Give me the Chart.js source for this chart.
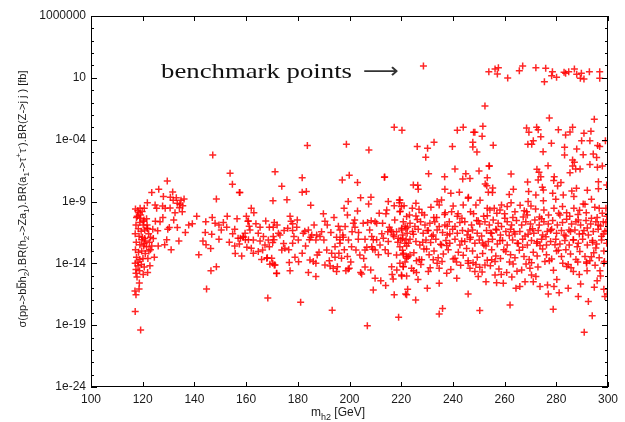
<!DOCTYPE html>
<html>
<head>
<meta charset="utf-8">
<script src="https://cdn.jsdelivr.net/npm/chart.js@4.4.1/dist/chart.umd.min.js"></script>
<style>
html,body{margin:0;padding:0;background:#fff;}
canvas{display:block;}
</style>
</head>
<body>
<canvas id="c" width="625" height="422"></canvas>
<script>
// Each point: [m_h2 in GeV, log10 of sigma*BR in fb]
const benchmarkPoints = [
[228.6,1.96],[253.9,1.5],[256.3,1.72],[257.6,1.82],[257.2,1.31],[261.2,0.99],[265.7,1.58],[267,1.96],
[272.1,1.82],[275.9,1.77],[275.4,0.69],[278.5,1.5],[278.2,1.17],[280.1,1.04],[283.6,1.37],[284.8,1.5],
[283,1.45],[287,1.72],[287.9,1.29],[289.7,1.37],[289.3,0.96],[290.7,0.91],[292.8,1.5],[296.8,1.5],[296.8,0.96]
];
const upperPoints = [
[252.4,-1.28],[277.3,-2.25],[294.7,-2.35],[217.3,-3.0],[220.3,-3.24],[241.7,-3.24],[244,-3.0],[248,-3.4],
[248.5,-3.4],[251.6,-2.92],[251.3,-3.73],[232.7,-4.2],[226.2,-4.56],[230.2,-4.7],[229.5,-5.42],[239.8,-4.56],
[247.7,-4.2],[247.7,-4.6],[249.3,-5.0],[255.6,-4.45],[254,-6.13],[268.5,-3.05],[269.4,-3.4],[272.4,-3.0],
[273,-3.2],[274,-3.76],[280.8,-3.19],[283.6,-3.62],[285.3,-3.38],[286.3,-3.0],[290.7,-3.48],[293.4,-3.32],
[269,-4.37],[270.5,-4.37],[271.1,-4.08],[278.1,-4.29],[274.9,-4.97],[283.2,-4.62],[283.2,-5.24],[287.9,-4.75],
[286.3,-5.64],[287,-5.83],[289.8,-4.08],[290.4,-5.21],[293,-4.08],[296,-4.48],[296.8,-4.56],[295.6,-5.45],
[294.3,-5.16],[299,-4.08],[276.8,-6.1],[272.5,-6.4],[273.3,-6.64],[274,-7.0],[273,-7.26],[279.2,-7.0],
[279,-7.3],[281.8,-7.47],[280.5,-7.74],[285.3,-6.67],[287.5,-6.37],[289.2,-6.37],[293,-6.0],[295.9,-6.23],
[297.8,-6.13],[296.3,-7.4],[296.3,-7.96],[299.5,-7.66],[213.6,-7.02],[226.4,-7.69],[230.6,-6.75],[240.8,-6.37],
[236.8,-7.0],[243.8,-7.18],[246.6,-7.15],[245,-6.75],[250.1,-6.53],[254.1,-6.13],[253.3,-7.07],[252.5,-7.58],
[253.1,-7.72],[255.4,-7.9],[262.5,-6.77],[263.4,-8.0],[261.8,-8.44],[236.9,-8.0],[239.2,-8.33],[242.5,-8.25],
[246,-8.66],[268.9,-7.42],[269.3,-8.2],[272.1,-8.47],[275,-8.07],
[274.6,-7.85],[286,-8.15],[287.8,-7.93],[286.3,-6.12],[253.7,-8.25],[255.3,-8.28],[224.7,-7.66],[226.6,-8.01],
[278.6,-8.33],[282.7,-8.47],[286.8,-8.6],[292,-8.1],
[183.7,-4.48],[198.8,-4.37],[207.5,-4.83],[171.2,-6.59],[181.7,-7.07],[173.8,-7.77],[199.9,-6.88],[197.2,-7.26],
[203.1,-7.47],[213.5,-7.04],[181.7,-8.25],[183.3,-8.2],[170.4,-8.93],[175.8,-8.85],[185,-9.3],[157.6,-8.28],
[147.1,-5.24],[153.8,-6.72],[154.7,-7.6],[157.4,-8.28],[148.5,-8.8],[129.5,-7.34],[123.5,-8.28],[126.2,-8.0],
[131.6,-8.23],[130.7,-8.66]
];
const leftClusterPoints = [
[121.8,-9.1],[119,-9.55],[118.1,-9.74],[120.6,-9.55],[124.8,-9.28],[125.4,-9.55],[127.7,-9.36],[128.7,-9.55],
[130.6,-9.52],[133.4,-9.14],[134.4,-9.22],[135.5,-9.34],[134.2,-9.5],[135.3,-9.82],[117.9,-10.2],[119,-10.35],
[120.5,-10.5],[121.5,-10.4],[120.2,-10.9],[124.9,-10.6],[126.7,-10.63],[125.8,-11.36],[123.9,-11.25],[121.7,-11.17],
[129.7,-11.25],[130.3,-11.1],[133.4,-11.1],[132,-10.5],[129.3,-12.1],[124.1,-12.0],[121.5,-12.65],[120.6,-12.4],
[119.6,-12.1],[117.4,-14.8],[120.2,-14.9],[121.9,-14.75],[118.7,-15.6],[118.6,-16.07],[117,-16.23],[117.4,-16.55],
[117.1,-17.9],[119.2,-19.4],[144.7,-16.07],[146.4,-14.6],[148.5,-14.27],[141.7,-13.3],[140.9,-10.2],[139.2,-10.8],
[144.4,-10.63],[146.9,-10.3],[148,-10.76],[149.5,-10.9],[144.2,-11.5],[143.3,-12.2],[144.5,-12.5],[146.3,-12.8],
[146.7,-11.65],[149.5,-12.05],[150.4,-11.3],[152.5,-11.08],[152.7,-10.2],[155.6,-11.25],[156.9,-11.97],[157.4,-12.43],
[155.6,-12.6],[155.8,-13.2],[158.9,-11.9],[159.7,-12.1],[160.3,-12.7],[160.7,-10.6],
[117.2,-9.6],[118.5,-9.9],[119.8,-9.8],[117.6,-10.3],[118.9,-10.7],[120.3,-10.6],[121.7,-10.9],[117.4,-10.9],
[118.3,-11.2],[119.4,-11.4],[120.8,-11.3],[122.3,-11.6],[117.1,-11.6],[118.6,-11.8],[119.9,-11.9],[121.1,-12.2],
[122.6,-12.3],[117.5,-12.3],[118.9,-12.5],[120.4,-12.6],[117.2,-12.9],[118.4,-13.1],[119.6,-13.0],[121,-13.2],
[122.4,-13.0],[117.6,-13.5],[118.9,-13.7],[120.1,-13.6],[117.1,-14.0],[118.2,-14.2],[119.5,-14.1],[117.4,-14.5],
[118.8,-14.6],[120.8,-12.0],[121.9,-11.2],[119.2,-10.1],[123,-11.9],[123.5,-12.6],[122,-13.6],[120.6,-14.3],
[117.8,-15.1],[118.2,-13.9],
[127.8,-10.3],[128.5,-12.5],[126,-12.6],[131,-12.9],[134,-12.2],[136.5,-11.5],[137.8,-10.9],[132.5,-9.9],
[131.8,-8.9],[133,-8.7],[134.8,-8.9],[136,-8.8],[128,-8.6],[123,-12.9],[124.5,-13.5],[122.8,-14.2]
];
const midMassPoints = [
[162,-9.55],[163,-9.9],[160.1,-10.2],[160.9,-10.57],[167.6,-10.57],[170.9,-10.7],[170.5,-11.08],[169,-11.08],
[165.4,-11.08],[177,-10.2],[177.4,-10.6],[178,-10.8],[179.6,-11.08],[182.7,-11.4],[189.9,-10.0],[190.5,-10.6],
[191.4,-10.9],[189.2,-11.44],[187.3,-11.7],[185,-11.9],[184.5,-12.1],[195.7,-11.0],[196.3,-11.3],[198.3,-11.03],
[197.4,-11.7],[195,-11.9],[196.3,-12.1],[202,-10.5],[202.1,-11.08],[201.5,-10.76],[201,-11.44],
[205.3,-10.76],[207,-10.7],[208.4,-10.56],[209.9,-10.64],[210.5,-10.76],[212.8,-10.76],[214.4,-9.68],[214.1,-10.0],
[211.5,-9.95],[207.4,-9.2],[208.3,-8.66],[204.3,-8.7],[199.5,-9.0],[197.9,-9.55],[199.2,-10.09],[203.1,-9.76],
[215,-9.0],[217.3,-9.34],[219.3,-8.88],[219.6,-9.79],[221.1,-9.34],[219.3,-9.1],
[214.8,-11.44],[215.9,-11.3],[216.9,-11.7],[218.2,-11.44],[220.2,-11.17],[221.5,-11.0],[222.4,-11.08],
[203.4,-12.05],[206,-12.05],[208.6,-11.84],[210.5,-12.1],[206.7,-12.7],[209,-12.86],[209.2,-12.1],
[215,-13.2],[220.8,-13.3],[222.1,-13.46],[219.5,-13.99],[216.3,-14.27],[220.8,-14.27],[218.3,-14.53],[220.2,-15.02],
[216.9,-15.26],[209.9,-15.2],[212.1,-15.4],[214,-15.8],[209.2,-16.15],[206,-14.3],[204.3,-14.75],[208.2,-14.53],
[177,-14.6],[171.8,-14.83],[170.3,-13.99],[168.2,-13.54],[171.2,-14.13],
[184.1,-14.75],[187,-15.07],[180.3,-13.88],[181.7,-13.18],[178.9,-13.5],[176.7,-13.94],[178,-12.37],
[184.7,-13.73],[186,-13.86],[187.5,-13.32],[187,-13.99],[190.5,-14.13],[192.5,-14.21],[193.7,-14.4],[195,-14.67],
[192.2,-13.8],[194.4,-13.5],[195.9,-13.18],[196.9,-13.58],[199.2,-13.45],[198.6,-14.6],[199.9,-14.4],[195.3,-14.27],
[157.8,-11.97],[158.9,-11.84],[160.9,-12.1],[162,-12.78],[162.8,-13.18],[164.7,-13.05],[166.4,-12.92],[165.4,-12.19],
[167.3,-12.51],[169,-12.65],[170.3,-12.32],[170.8,-12.1],[173.1,-11.7],[175,-12.78],[173.8,-12.92],[168,-13.59],
[169.9,-13.59],[169.2,-14.07],[170.9,-14.13],[171.8,-14.8],[199.5,-14.45],[216.5,-14.9],[204.7,-14.86],
[215.4,-11.08],[216.3,-11.43],[217.2,-11.84],[218.9,-11.97],[220.6,-11.7],[221.9,-12.1],[222.8,-12.38],[219.5,-12.65],
[220.8,-13.18],[218.2,-13.32],[222.1,-13.59],[223.4,-13.32],[215,-12.24],[213.1,-11.97],[211.8,-12.51],[209.9,-12.92],
[208.6,-12.65],[206,-12.92],[204,-13.32],[202.5,-12.92],[200.8,-12.65],[199.6,-12.11],[197.6,-11.89],[196.3,-12.38],
[194.4,-12.65],[193.1,-13.18],[191.2,-12.92],[190.1,-12.11],[188.6,-11.84],[187,-12.11],[185.4,-11.7],[184.1,-11.3],
[182.1,-11.57],[180.2,-12.11],[178.5,-11.84],[178,-11.35],[176.1,-11.16],[174.7,-11.35],[172.5,-11.57],[170.5,-11.84],
[168.6,-12.11],[166.7,-11.84],[164.7,-11.57],[162.8,-12.11],[161.5,-11.3],[159.6,-11.57],
[151.2,-10.7],[153.5,-12.3],[154.8,-11.6],[156.5,-10.4],[158.3,-13.4],[161.2,-11.0],[163.8,-10.8],[166,-13.7],
[172,-10.9],[174.5,-12.4],[176.5,-12.9],[179.8,-10.5],[183,-12.6],[186.3,-10.9],[188.2,-13.1],[192.8,-11.5],
[194,-10.3],[198,-12.9],[200.5,-13.9],[203.5,-11.5],[205.5,-13.6],[207.8,-11.3],[211.2,-13.3],[212.5,-11.6],
[213.8,-12.9],[217.5,-10.5],[218.7,-12.3]
];
const highMassBand = [
[275,-8.93],[279.8,-8.82],[293.6,-8.82],[291.1,-9.22],[225.7,-9.14],[224.3,-9.55],[226.9,-9.63],[225.7,-10.17],
[231.5,-9.47],[233.9,-9.01],[235.6,-8.87],[234.7,-9.28],[239.5,-9.82],[240.1,-9.36],[244,-9.28],[245.9,-8.74],
[246.8,-9.82],[248.9,-9.28],[253.3,-9.55],[254.3,-9.68],[256,-9.55],[258.8,-9.28],[258.2,-9.68],[261,-9.41],
[264,-9.82],[267.6,-9.74],[269.1,-9.01],[270.2,-9.36],[268.5,-9.82],[275.2,-9.68],[279.1,-9.55],[282.4,-9.41],
[286.8,-9.55],[290.4,-9.2],[294.9,-9.47],[296.6,-9.55],[297.8,-9.95],[299.2,-9.55],[293.6,-10.36],[296.2,-10.9],
[298.2,-10.63],[219.5,-8.87],[219.5,-9.82],[222.1,-10.22],[220.1,-9.41],
[250.5,-8.9],[262.5,-9.1],[272,-9.6],[284,-9.9],[289,-9.7],[242,-10.0],[237,-9.9],[229,-10.1],[260,-10.0],[277,-10.1],[266,-9.3],
[223.2,-10.1],[228,-9.9],[232.6,-10.3],[236.8,-10.05],[243.5,-10.35],[248,-10.0],[251.9,-10.2],[257,-9.95],
[263.2,-10.3],[268.8,-10.1],[273.5,-10.25],[280.9,-9.95],[285.2,-10.2],[288.4,-10.05],[291.6,-9.9],[299.5,-10.2],
[220.8,-10.63],[223.4,-10.76],[225.3,-11.03],[227.5,-10.63],[229.2,-10.9],[231.1,-10.76],[233,-10.63],[234.7,-11.03],
[236.9,-10.9],[238.6,-10.63],[240.8,-11.03],[242.7,-10.7],[244.6,-10.63],[247.2,-10.9],[249.2,-10.54],[250.4,-10.81],
[252.4,-10.63],[254.1,-10.9],[255.6,-10.49],[257.5,-10.76],[258.8,-11.03],[261,-10.63],[262.7,-10.9],[264.6,-10.54],
[266.6,-10.9],[268.2,-10.63],[270,-10.81],[271.7,-10.49],[273.4,-10.9],[275.2,-10.63],[276.9,-10.81],[278.6,-10.54],
[280.4,-10.9],[282.4,-10.7],[284,-10.44],[285.9,-10.81],[287.6,-10.63],[289.4,-10.9],[291.5,-10.54],[293.3,-10.81],
[295.3,-10.63],[297.1,-10.98],[299.2,-10.7],
[221.8,-11.2],[226.2,-10.45],[230.1,-11.35],[233.7,-10.3],[237.8,-11.0],[241.7,-10.2],[245.9,-11.4],[249.8,-10.55],
[253.3,-10.15],[256.6,-11.25],[260.1,-10.35],[263.6,-11.45],[267.2,-10.25],[270.8,-11.2],[274.3,-10.4],[277.8,-11.35],
[281.4,-10.1],[284.9,-11.3],[288.5,-10.5],[292,-11.15],[295.8,-10.3],[298.8,-11.4],
[220.1,-11.3],[222.3,-11.57],[224.4,-11.43],[226.6,-11.24],[228.5,-11.57],[230.5,-11.35],[232.4,-11.7],[233.9,-11.3],
[236,-11.51],[237.8,-11.7],[239.9,-11.24],[241.7,-11.57],[243.7,-11.35],[245.5,-11.7],[247.6,-11.3],[249.4,-11.57],
[251.1,-11.78],[253,-11.35],[255,-11.57],[256.9,-11.3],[258.4,-11.7],[260.5,-11.43],[262.3,-11.24],[264,-11.62],
[265.9,-11.43],[267.9,-11.78],[269.8,-11.3],[271.3,-11.57],[273,-11.35],[274.7,-11.7],[276.5,-11.43],[278.2,-11.24],
[280.1,-11.57],[282,-11.35],[283.7,-11.78],[285.5,-11.43],[287.2,-11.3],[288.9,-11.62],[290.7,-11.35],[292.4,-11.7],
[294.3,-11.43],[296.2,-11.24],[298.2,-11.62],[299.7,-11.35],
[220.5,-12.0],[224.7,-11.65],[228.3,-12.3],[231.8,-11.8],[235.2,-12.45],[238.8,-11.6],[243.4,-12.2],[246.8,-11.9],
[251.5,-12.35],[254.6,-11.55],[258.2,-12.15],[261.8,-11.75],[265.3,-12.4],[269.1,-11.65],[272.6,-12.25],[276,-11.85],
[279.5,-12.5],[283,-11.7],[286.6,-12.1],[290.2,-11.6],[294,-12.3],[297.5,-11.8],
[219.8,-12.11],[221.4,-12.38],[223.4,-12.05],[225.7,-12.24],[227.2,-12.51],[229.6,-12.11],[231.4,-12.32],[233.4,-12.05],
[235.6,-12.51],[237.3,-12.16],[238.8,-12.38],[240.8,-12.05],[242.7,-12.51],[244.6,-12.24],[246.6,-12.05],[248.5,-12.38],
[250.2,-12.11],[252,-12.51],[253.7,-12.24],[255.3,-12.05],[257.2,-12.43],[259.2,-12.16],[261,-12.51],[263.1,-12.11],
[264.9,-12.38],[267,-12.05],[268.8,-12.51],[270.4,-12.16],[272.4,-12.38],[274.3,-12.05],[276.2,-12.51],[277.8,-12.24],
[279.8,-12.05],[281.4,-12.43],[283.3,-12.16],[285,-12.51],[286.6,-12.11],[288.5,-12.38],[290.2,-12.05],[292,-12.51],
[294,-12.16],[295.6,-12.43],[297.5,-12.11],[299.5,-12.38],
[222.1,-12.6],[225.9,-13.8],[229.8,-12.85],[233.9,-14.0],[237.6,-12.55],[241.4,-13.9],[245.3,-12.8],[248.9,-14.1],
[252.8,-12.6],[256.3,-13.85],[259.7,-12.9],[263.3,-14.05],[267,-12.7],[270.4,-13.95],[273.7,-12.55],[277.3,-13.8],
[280.8,-12.95],[284.6,-14.1],[288.1,-12.65],[291.7,-13.9],[295.3,-12.75],[298.4,-14.0],
[220.5,-12.95],[222.7,-13.45],[224.9,-13.15],[227,-13.7],[228.8,-12.85],[230.8,-13.3],[232.7,-13.0],[234.3,-13.55],
[236.3,-13.25],[238.2,-12.9],[240.1,-13.65],[242.1,-13.1],[244,-13.35],[245.9,-13.8],[247.6,-13.0],[249.4,-13.5],
[251.5,-13.2],[253.3,-13.75],[255,-12.9],[256.6,-13.4],[258.4,-13.6],[260.5,-13.05],[262.3,-13.3],[264,-13.55],
[265.7,-12.95],[267.5,-13.45],[269.5,-13.7],[271.1,-13.1],[272.6,-13.4],[274.7,-12.85],[276.2,-13.3],[278.2,-13.65],
[280.1,-13.0],[282,-13.45],[283.7,-12.9],[285.5,-13.25],[287.6,-13.7],[289.1,-13.05],[291.1,-13.45],[293,-13.8],
[294.5,-13.15],[296.6,-13.55],[298.4,-13.0]
];
const lowTailPoints = [
[220.8,-14.26],[224,-14.4],[225.9,-14.75],[222.1,-15.02],[220.1,-14.94],[227.9,-13.72],[232.4,-13.72],[234.7,-14.4],
[237.6,-14.8],[240.8,-13.59],[245.9,-13.99],[246.6,-14.4],[250.4,-14.32],[249.8,-15.07],[252.8,-15.48],[255,-13.72],
[256.3,-14.94],[256.9,-15.56],[259.5,-15.61],[260.8,-14.75],[266.6,-14.53],[267.9,-15.48],[269.8,-14.4],[270.4,-14.94],
[271.1,-15.48],[272.1,-15.07],[264.4,-16.01],[265.9,-15.88],[273.7,-15.88],[276.6,-15.75],[276.9,-16.47],[279.1,-15.88],
[281.1,-16.37],[284,-14.26],[286.6,-14.67],[284.6,-16.01],[288.5,-16.69],[289.4,-15.67],[292.4,-17.09],[294.7,-15.93],
[293.6,-13.46],[296.9,-14.59],[297.1,-15.02],[298.4,-16.1],[299.7,-16.47],[291.7,-13.99],[225.6,-16.96],[222.1,-16.55],
[230.1,-16.01],[245.9,-16.47],[234.7,-15.61],[230.5,-14.67],[248.5,-14.67],[252.4,-14.13],
[221.5,-13.9],[224.8,-14.6],[227.6,-14.1],[231.2,-14.35],[235.8,-13.85],[239.2,-14.5],[243,-14.15],[247.8,-13.95],
[251.3,-14.7],[254.5,-14.2],[257.8,-14.45],[261.9,-13.9],[264.8,-14.65],[268.3,-14.05],[272.9,-14.3],[275.6,-13.85],
[278.9,-14.55],[282.5,-14.0],[285.7,-14.35],[288.3,-13.9],[291.9,-14.6],[295,-14.15],[298.6,-13.85],[226.5,-15.3],
[241.5,-15.2],[262.8,-15.1],[280.2,-15.3],[288.9,-14.9],[295.8,-15.4],[258.7,-14.9],
[262.1,-17.36],[250.4,-17.82],[234.7,-18.09],[236,-17.66],[278.8,-17.72],[293.9,-18.23],[290.8,-19.57],[298.8,-16.69],
[217.3,-16.55],[221.7,-16.47],[222.5,-16.1],[219,-18.36],[206.9,-19.04],[193.3,-17.8],[181.1,-17.15],[168.4,-16.8]
];

const xTicks = [100,120,140,160,180,200,220,240,260,280,300];
const yTickExps = [-24,-19,-14,-9,-4,1,6];
const yTickLabels = ['1e-24','1e-19','1e-14','1e-9','1e-04','10','1000000'];

const allPoints = [...benchmarkPoints, ...upperPoints, ...leftClusterPoints, ...midMassPoints, ...highMassBand, ...lowTailPoints]
  .map(([m, e]) => ({x: m, y: Math.pow(10, e)}));

const FONT = "'Liberation Sans', Arial, sans-serif";

function drawRich(ctx, parts, size, draw) {
  let x = 0;
  for (const p of parts) {
    const small = p.s === 'sub' || p.s === 'sup';
    ctx.font = (small ? Math.round(size*0.72) : size) + 'px ' + FONT;
    const dy = p.s === 'sub' ? size*0.3 : (p.s === 'sup' ? -size*0.42 : 0);
    const w = ctx.measureText(p.t).width;
    if (draw) {
      ctx.fillText(p.t, x, dy);
      if (p.s === 'bar') ctx.fillRect(x + 0.5, -size*0.86, w - 1, 1);
    }
    x += w;
  }
  return x;
}

const decor = {
  id: 'decor',
  afterDatasetsDraw(chart) {
    const {ctx, chartArea: {left, right, top, bottom}, scales: {x, y}} = chart;
    ctx.save();
    ctx.strokeStyle = '#000';
    ctx.lineWidth = 1;
    ctx.beginPath();
    for (const v of xTicks) {
      const px = Math.round(x.getPixelForValue(v)) + 0.5;
      ctx.moveTo(px, bottom); ctx.lineTo(px, bottom - 5);
      ctx.moveTo(px, top); ctx.lineTo(px, top + 5);
    }
    for (let e = -24; e <= 6; e++) {
      const py = Math.round(y.getPixelForValue(Math.pow(10, e))) + 0.5;
      const len = yTickExps.includes(e) ? 6 : 3;
      ctx.moveTo(left, py); ctx.lineTo(left + len, py);
      ctx.moveTo(right, py); ctx.lineTo(right - len, py);
    }
    ctx.stroke();
    ctx.strokeRect(Math.round(left) + 0.5, Math.round(top) + 0.5, Math.round(right - left) - 1, Math.round(bottom - top) - 1);
    ctx.restore();
  },
  afterDraw(chart) {
    const ctx = chart.ctx;
    ctx.save();
    ctx.fillStyle = '#1a1a1a';
    ctx.textBaseline = 'alphabetic';
    ctx.textAlign = 'left';
    const yParts = [
      {t:'σ(pp->b'},{t:'b',s:'bar'},{t:'h'},{t:'2',s:'sub'},{t:').BR(h'},{t:'2',s:'sub'},{t:'->Za'},{t:'1',s:'sub'},
      {t:').BR(a'},{t:'1',s:'sub'},{t:'->τ'},{t:'+',s:'sup'},{t:'τ'},{t:'-',s:'sup'},{t:').BR(Z->j j ) [fb]'}
    ];
    const yw = drawRich(ctx, yParts, 11, false);
    ctx.save();
    ctx.translate(26, 199);
    ctx.rotate(-Math.PI/2);
    ctx.translate(-yw/2, 0);
    drawRich(ctx, yParts, 11, true);
    ctx.restore();
    const xParts = [{t:'m'},{t:'h2',s:'sub'},{t:' [GeV]'}];
    const xw = drawRich(ctx, xParts, 12, false);
    ctx.save();
    ctx.translate(338 - xw/2, 416);
    drawRich(ctx, xParts, 12, true);
    ctx.restore();
    ctx.fillStyle = '#111';
    ctx.font = "22px 'Liberation Serif', 'Times New Roman', serif";
    const label = 'benchmark points';
    const lw = ctx.measureText(label).width;
    ctx.save();
    ctx.translate(161, 78);
    ctx.scale(191 / lw, 1);
    ctx.fillText(label, 0, 0);
    ctx.restore();
    ctx.fillStyle = '#333';
    ctx.font = "22px 'DejaVu Sans', sans-serif";
    const arrow = '⟶';
    const aw = ctx.measureText(arrow).width;
    ctx.save();
    ctx.translate(363, 78);
    ctx.scale(36 / aw, 1);
    ctx.fillText(arrow, 0, 0);
    ctx.restore();
    ctx.restore();
  }
};

new Chart(document.getElementById('c'), {
  type: 'scatter',
  data: {
    datasets: [{
      data: allPoints,
      pointStyle: 'cross',
      radius: 3.5,
      borderColor: 'rgba(255,0,0,0.85)',
      borderWidth: 1.5,
      backgroundColor: 'rgba(255,0,0,0.85)'
    }]
  },
  options: {
    responsive: false,
    animation: false,
    devicePixelRatio: 1,
    layout: {padding: {top: 16, right: 17, left: 0, bottom: 0}},
    plugins: {legend: {display: false}, tooltip: {enabled: false}},
    scales: {
      x: {
        type: 'linear', min: 100, max: 300,
        grid: {display: false, drawTicks: false},
        border: {display: false},
        afterBuildTicks(s) { s.ticks = xTicks.map(v => ({value: v})); },
        afterFit(s) { s.height = 35; },
        ticks: {color: '#1a1a1a', font: {size: 12, family: FONT}, padding: 5, maxRotation: 0,
                callback: v => String(v)}
      },
      y: {
        type: 'logarithmic', min: 1e-24, max: 1e6,
        grid: {display: false, drawTicks: false},
        border: {display: false},
        afterBuildTicks(s) { s.ticks = yTickExps.map(e => ({value: Math.pow(10, e)})); },
        afterFit(s) { s.width = 91; },
        ticks: {color: '#1a1a1a', font: {size: 12, family: FONT}, padding: 5,
                callback: (v) => {
                  const i = yTickExps.indexOf(Math.round(Math.log10(v)));
                  return i >= 0 ? yTickLabels[i] : '';
                }}
      }
    }
  },
  plugins: [decor]
});
</script>
</body>
</html>
